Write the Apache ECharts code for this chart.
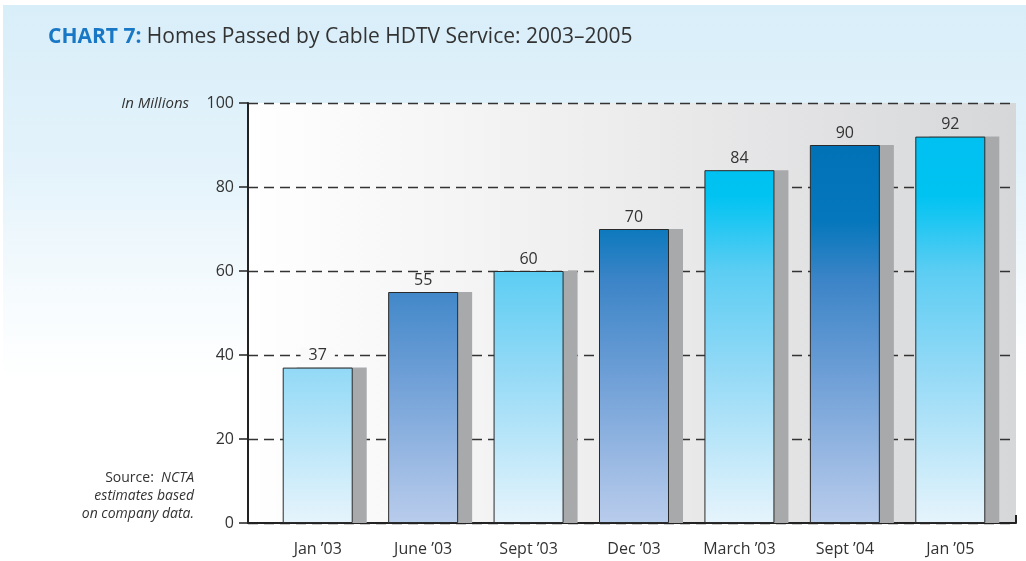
<!DOCTYPE html>
<html>
<head>
<meta charset="utf-8">
<script src="https://cdn.jsdelivr.net/npm/echarts@6/dist/echarts.min.js"></script>
<style>
  html, body { margin: 0; padding: 0; background: #ffffff; }
  #chart { width: 1026px; height: 561px; }
</style>
</head>
<body>
<div id="chart"></div>
<script>
// Chart 7 — homes passed by cable HDTV service, 2003–2005

const categories = ["Jan \u201903", "June \u201903", "Sept \u201903", "Dec \u201903", "March \u201903", "Sept \u201904", "Jan \u201905"];
const homesPassed = [37, 55, 60, 70, 84, 90, 92];
const yTicks = { min: 0, max: 100, interval: 20 };

(function () {
    const dom = document.getElementById("chart");
    const chart = echarts.init(dom, null, { renderer: "canvas" });
    const FONT = "'Open Sans', 'Noto Sans', sans-serif";
    const INK = "#333333";

    // two alternating bar fills, mapped to the plot height (y 103 -> 523)
    const lightFill = new echarts.graphic.LinearGradient(0, 103, 0, 523, [
        { offset: 0, color: "#00bff0" },
        { offset: 0.22, color: "#00c3f2" },
        { offset: 0.4, color: "#5ccdf3" },
        { offset: 0.63, color: "#92d9f6" },
        { offset: 1, color: "#e6f4fc" }
    ], true);
    const darkFill = new echarts.graphic.LinearGradient(0, 103, 0, 523, [
        { offset: 0, color: "#006fb4" },
        { offset: 0.28, color: "#0577bc" },
        { offset: 0.42, color: "#3b84c7" },
        { offset: 0.66, color: "#70a0d7" },
        { offset: 1, color: "#b9ccec" }
    ], true);

    const barData = homesPassed.map((v, i) => {
        const item = {
            value: v,
            itemStyle: { color: i % 2 === 0 ? lightFill : darkFill }
        };
        if (i === 0) {
            // label sits over the 40 gridline, mask the dashes behind it
            item.label = { backgroundColor: "#fafafa", padding: [0, 8] };
        }
        return item;
    });

    const noteStyle = (text, top) => ({
        type: "text",
        right: 1026 - 194,
        top: top,
        style: {
            text: text,
            font: "italic 14px " + FONT,
            fill: INK,
            align: "right",
            rich: {
                n: { fontStyle: "normal", fontSize: 14, fontFamily: FONT, fill: INK },
                i: { fontStyle: "italic", fontSize: 14, fontFamily: FONT, fill: INK }
            }
        }
    });

    const option = {
        backgroundColor: "#ffffff",
        animation: false,
        textStyle: { fontFamily: FONT },
        graphic: [
            {
                type: "rect",
                z: -10,
                shape: { x: 3, y: 5, width: 1023, height: 556 },
                style: {
                    fill: new echarts.graphic.LinearGradient(0, 0, 0, 1, [
                        { offset: 0, color: "#d8eef9" },
                        { offset: 0.3, color: "#e4f3fb" },
                        { offset: 0.55, color: "#f8fcfe" },
                        { offset: 0.68, color: "#ffffff" },
                        { offset: 1, color: "#ffffff" }
                    ])
                }
            },
            {
                type: "text",
                left: 48,
                top: 27,
                style: {
                    text: "{b|CHART 7:} Homes Passed by Cable HDTV Service: 2003\u20132005",
                    font: "21px " + FONT,
                    fill: INK,
                    rich: {
                        b: { fontWeight: "bold", fill: "#1878c6", fontSize: 21, fontFamily: FONT }
                    }
                }
            },
            {
                type: "text",
                right: 1026 - 189,
                top: 96,
                style: {
                    text: "In Millions",
                    font: "italic 15px " + FONT,
                    fill: INK,
                    align: "right"
                }
            },
            noteStyle("{n|Source:}  {i|NCTA}", 471),
            noteStyle("estimates based", 489),
            noteStyle("on company data.", 507)
        ],
        grid: [
            {
                // frame grid: plot background, y axis, gridlines, baseline
                left: 248, right: 10, top: 103, bottom: 38,
                show: true,
                borderWidth: 0,
                backgroundColor: new echarts.graphic.LinearGradient(0, 0, 1, 0, [
                    { offset: 0, color: "#ffffff" },
                    { offset: 0.45, color: "#eeeeef" },
                    { offset: 1, color: "#d6d7d8" }
                ])
            },
            {
                // bar grid, inset so bar groups line up with the source
                left: 272, right: 16, top: 103, bottom: 38
            }
        ],
        xAxis: [
            {
                type: "value",
                gridIndex: 0,
                min: 0, max: 1, interval: 1,
                axisLine: { show: true, onZero: false, lineStyle: { color: "#222", width: 2 } },
                axisTick: { show: true, inside: true, length: 8, lineStyle: { color: "#222", width: 2 } },
                axisLabel: { show: false },
                splitLine: { show: false }
            },
            {
                type: "category",
                gridIndex: 1,
                data: categories,
                axisLine: { show: false },
                axisTick: { show: false },
                axisLabel: {
                    color: INK,
                    fontSize: 16,
                    fontFamily: FONT,
                    margin: 18,
                    padding: [0, 14, 0, 0]
                }
            }
        ],
        yAxis: [
            {
                type: "value",
                gridIndex: 0,
                min: yTicks.min, max: yTicks.max, interval: yTicks.interval,
                axisLine: { show: true, lineStyle: { color: "#222", width: 2 } },
                axisTick: { show: true, length: 9, lineStyle: { color: "#222", width: 1.5 } },
                axisLabel: { color: INK, fontSize: 16, fontFamily: FONT, margin: 14 },
                splitLine: {
                    show: true,
                    lineStyle: { color: "#333", width: 1.3, type: [10, 6] }
                }
            },
            {
                type: "value",
                gridIndex: 1,
                min: yTicks.min, max: yTicks.max, interval: yTicks.interval,
                show: false
            }
        ],
        series: [
            {
                name: "Homes passed",
                type: "bar",
                xAxisIndex: 1,
                yAxisIndex: 1,
                barWidth: 70,
                barGap: "-80%",
                z: 3,
                data: barData,
                itemStyle: { borderColor: "#2a2a2a", borderWidth: 1 },
                label: {
                    show: true,
                    position: "top",
                    distance: 4,
                    color: INK,
                    fontSize: 16,
                    fontFamily: FONT
                }
            },
            {
                name: "shadow",
                type: "bar",
                xAxisIndex: 1,
                yAxisIndex: 1,
                barWidth: 70,
                z: 2,
                silent: true,
                data: homesPassed,
                itemStyle: { color: "#a8a9ab" }
            }
        ]
    };

    chart.setOption(option);
    window.addEventListener("resize", () => chart.resize());
})();
</script>
</body>
</html>
